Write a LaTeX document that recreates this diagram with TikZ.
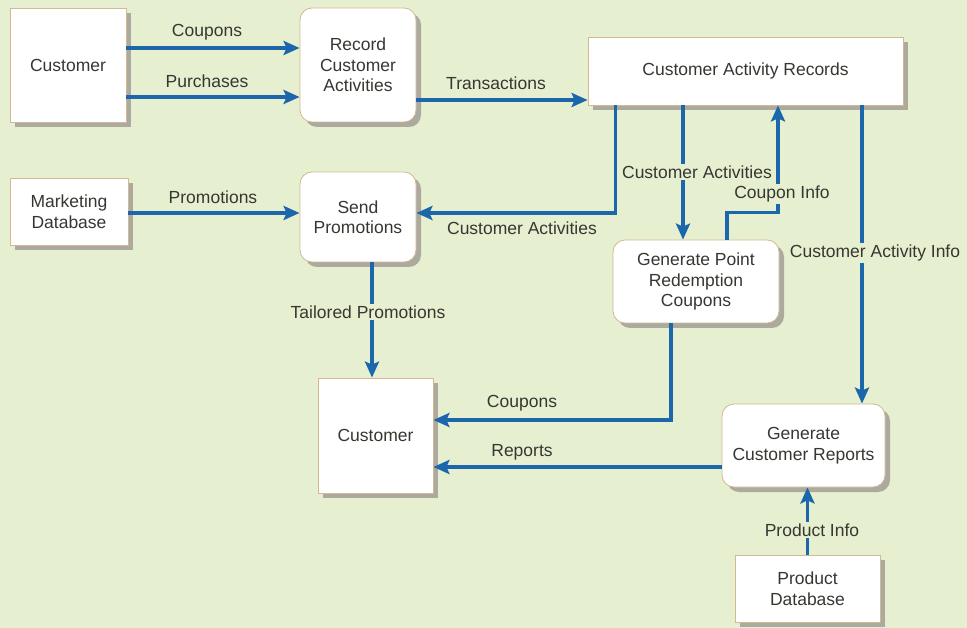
\documentclass[tikz,border=0pt]{standalone}
\usepackage{fontspec}
\setmainfont{Liberation Sans}
\usetikzlibrary{arrows.meta,shadows,calc}
\definecolor{bg}{RGB}{230,239,208}
\definecolor{flowblue}{RGB}{28,102,172}
\definecolor{boxedge}{RGB}{212,184,145}
\definecolor{shadowc}{RGB}{172,170,158}
\definecolor{txt}{RGB}{55,55,50}
\begin{document}
\begin{tikzpicture}[x=1pt,y=-1pt,
  font=\fontsize{17.5}{20.5}\selectfont, text=txt,
  entity/.style={draw=boxedge, line width=0.8pt, fill=white,
    drop shadow={shadow xshift=5pt,shadow yshift=-5pt,fill=shadowc,opacity=1},
    align=center, inner sep=2pt},
  process/.style={entity, rounded corners=12pt},
  flow/.style={draw=flowblue, line width=3.3pt, -{Stealth[length=16pt,width=14pt,inset=3pt]}},
  lbl/.style={inner sep=1.5pt, text=txt},
  onl/.style={lbl, fill=bg}]
\fill[bg] (0,0) rectangle (967,628);
\useasboundingbox (0,0) rectangle (967,628);

% boxes
\node[entity, minimum width=116pt, minimum height=114pt] (cust1) at (68,65) {Customer};
\node[process, minimum width=116pt, minimum height=114pt] (rec) at (358,65) {Record\\Customer\\Activities};
\node[entity, minimum width=315pt, minimum height=68pt] (car) at (745.5,71) {Customer Activity Records};
\node[entity, minimum width=118pt, minimum height=67pt] (mkt) at (69,211.5) {Marketing\\Database};
\node[process, minimum width=116pt, minimum height=90pt] (send) at (358,217) {Send\\Promotions};
\node[process, minimum width=166pt, minimum height=83pt] (gpr) at (696,281.5) {Generate Point\\Redemption\\Coupons};
\node[entity, minimum width=115pt, minimum height=115pt] (cust2) at (375.5,435.5) {Customer};
\node[process, minimum width=163pt, minimum height=83pt] (gcr) at (803.5,445.5) {Generate\\Customer Reports};
\node[entity, minimum width=145pt, minimum height=67pt] (pdb) at (807.5,588.5) {Product\\Database};

% connectors
\draw[flow] ([yshift=17pt]cust1.east) -- ([yshift=17pt]rec.west);
\draw[flow] ([yshift=-32pt]cust1.east) -- ([yshift=-32pt]rec.west);
\draw[flow] ([yshift=-35pt]rec.east) coordinate (t1) -- (t1 -| car.west);
\draw[flow] ([yshift=-1.5pt]mkt.east) coordinate (p1) -- (p1 -| send.west);
\draw[flow] ([xshift=28pt]car.south west) |- ([yshift=4pt]send.east);
\coordinate (c2) at ([xshift=-13pt]gpr.north);
\draw[flow] (car.south -| c2) -- (c2);
\draw[flow] ([xshift=31pt]gpr.north) -- ++(0,-27) -| ([xshift=32.5pt]car.south);
\draw[flow] ([xshift=116.5pt]car.south) -- ([xshift=58.5pt]gcr.north);
\draw[flow] ([xshift=14pt]send.south) coordinate (tp) -- (tp |- cust2.north);
\draw[flow] ([xshift=-25pt]gpr.south) |- ([yshift=15.5pt]cust2.east);
\draw[flow] ([yshift=-21.5pt]gcr.west) coordinate (r1) -- (r1 -| cust2.east);
\draw[flow] (pdb.north) -- (pdb.north |- gcr.south);

% labels
\node[lbl] (l1) at (207,32) {Coupons};
\node[lbl] (l2) at (207,81) {Purchases};
\node[lbl] (l3) at (496,83) {Transactions};
\node[lbl] (l4) at (213,197) {Promotions};
\node[lbl] (l5) at (522,228) {Customer Activities};
\node[onl] (l6) at (697,172) {Customer Activities};
\node[onl] (l7) at (782,194) {Coupon Info};
\node[onl] (l8) at (875,253) {Customer Activity Info};
\node[onl] (l9) at (368,312) {Tailored Promotions};
\node[lbl] (l10) at (522,403) {Coupons};
\node[lbl] (l11) at (522,452) {Reports};
\node[onl] (l12) at (812,530) {Product Info};
\end{tikzpicture}
\end{document}
